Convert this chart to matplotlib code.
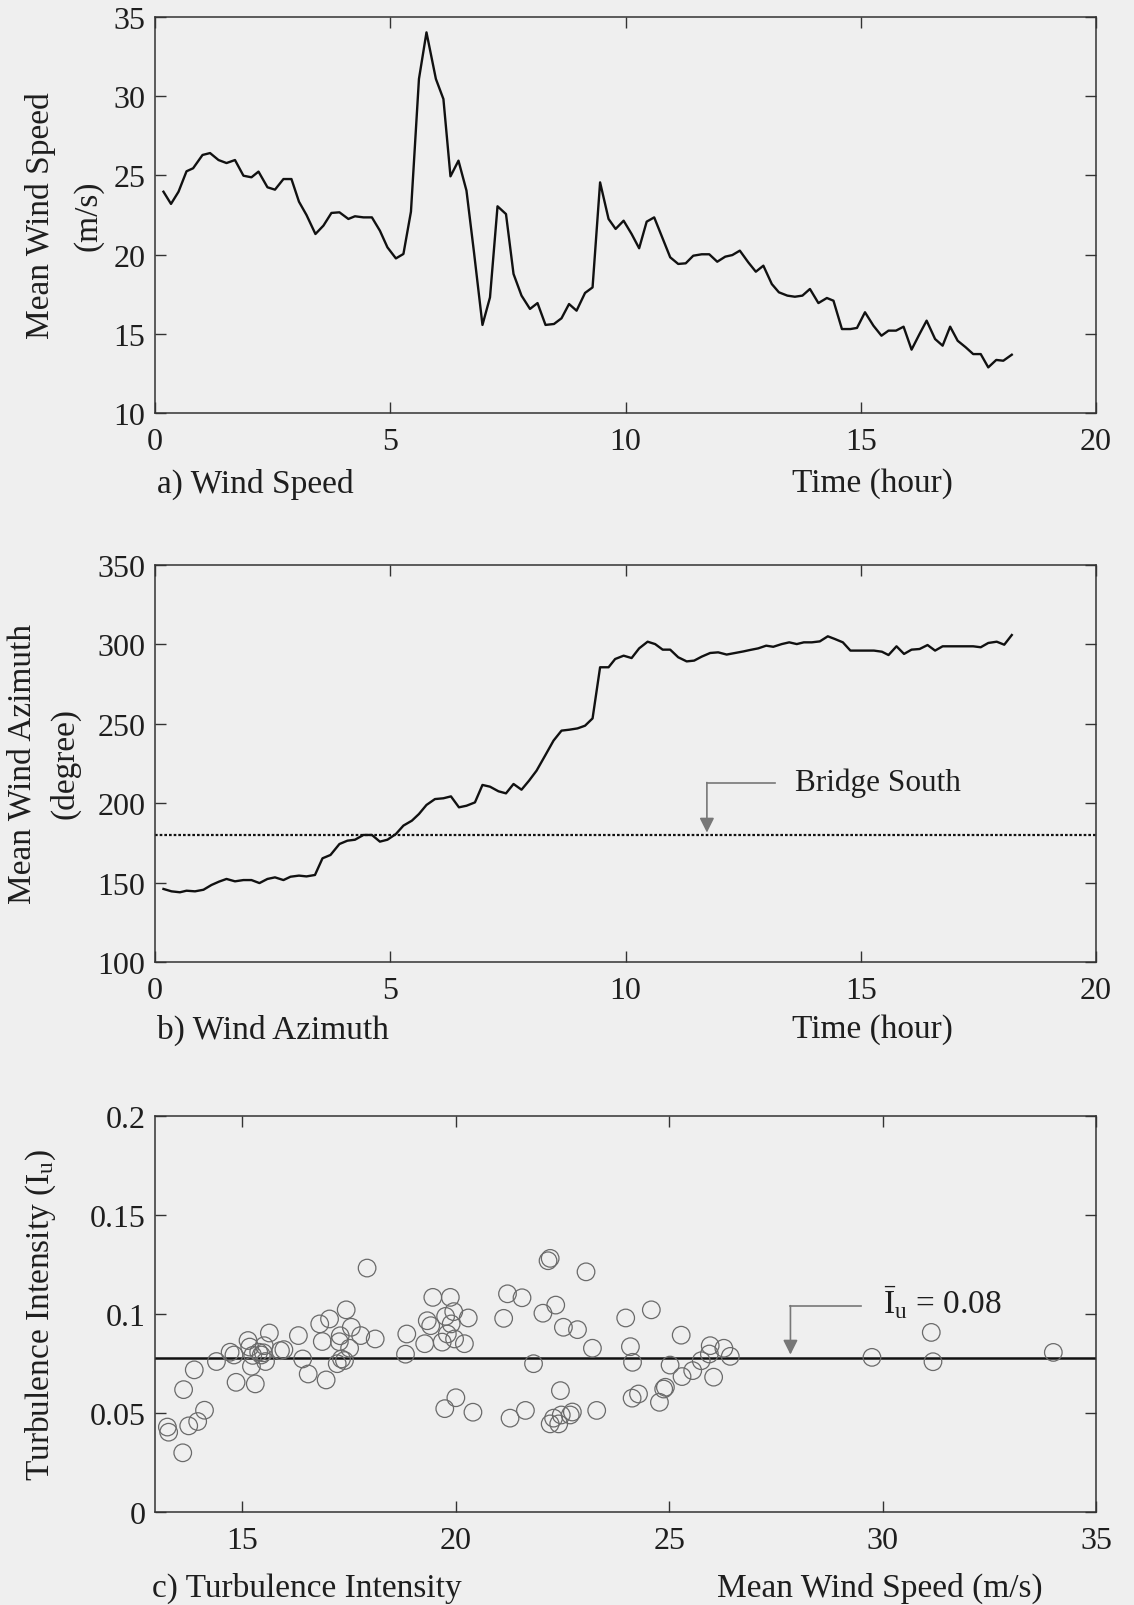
import matplotlib
matplotlib.use("Agg")
import matplotlib.pyplot as plt

plt.rcParams['font.family'] = ['Liberation Serif', 'DejaVu Serif']
plt.rcParams['mathtext.fontset'] = 'custom'
plt.rcParams['mathtext.rm'] = 'Liberation Serif'
plt.rcParams['mathtext.it'] = 'Liberation Serif:italic'

# ---------------- data ----------------
speed_time = [0.18, 0.34, 0.50, 0.67, 0.81, 1.01, 1.17, 1.35, 1.52, 1.70, 1.88, 2.05, 2.20, 2.39, 2.55,
              2.73, 2.90, 3.06, 3.22, 3.41, 3.58, 3.75, 3.92, 4.11, 4.25, 4.43, 4.61, 4.78, 4.94, 5.12,
              5.28, 5.44, 5.61, 5.77, 5.97, 6.13, 6.28, 6.45, 6.62, 6.78, 6.96, 7.12, 7.28, 7.46, 7.62,
              7.79, 7.97, 8.13, 8.30, 8.48, 8.64, 8.80, 8.96, 9.14, 9.30, 9.46, 9.64, 9.79, 9.96, 10.13,
              10.29, 10.45, 10.61, 10.95, 11.12, 11.28, 11.44, 11.62, 11.78, 11.95, 12.12, 12.27, 12.43,
              12.61, 12.77, 12.93, 13.11, 13.26, 13.44, 13.60, 13.76, 13.92, 14.10, 14.28, 14.42, 14.60,
              14.78, 14.92, 15.09, 15.27, 15.44, 15.59, 15.75, 15.91, 16.08, 16.25, 16.40, 16.58, 16.74,
              16.90, 17.06, 17.23, 17.39, 17.55, 17.71, 17.88, 18.03, 18.21]
wind_speed = [23.97, 23.2, 23.97, 25.26, 25.45, 26.29, 26.41, 25.97, 25.78, 25.97, 24.98, 24.88, 25.24, 24.25,
              24.1, 24.77, 24.77, 23.34, 22.5, 21.3, 21.83, 22.63, 22.67, 22.25, 22.42, 22.35, 22.35, 21.51,
              20.46, 19.76, 20.04, 22.71, 31.09, 34.03, 31.09, 29.82, 24.94, 25.93, 24.04, 20.14, 15.56,
              17.30, 23.05, 22.56, 18.78, 17.41, 16.57, 16.94, 15.56, 15.62, 15.98, 16.88, 16.46, 17.58,
              17.93, 24.56, 22.25, 21.62, 22.14, 21.3, 20.40, 22.08, 22.35, 19.83, 19.41, 19.45, 19.93,
              20.02, 20.02, 19.55, 19.87, 19.97, 20.25, 19.51, 18.92, 19.30, 18.14, 17.62, 17.41, 17.34,
              17.41, 17.83, 16.94, 17.26, 17.09, 15.30, 15.30, 15.37, 16.36, 15.51, 14.88, 15.20, 15.20,
              15.45, 14.0, 14.99, 15.83, 14.67, 14.25, 15.45, 14.56, 14.15, 13.72, 13.72, 12.88, 13.35,
              13.30, 13.68]

azim_time = [0.18, 0.35, 0.53, 0.67, 0.85, 1.03, 1.20, 1.36, 1.52, 1.70, 1.88, 2.05, 2.22, 2.39, 2.55, 2.73,
             2.88, 3.06, 3.22, 3.40, 3.56, 3.73, 3.92, 4.09, 4.25, 4.43, 4.61, 4.78, 4.94, 5.12, 5.28, 5.46,
             5.61, 5.77, 5.95, 6.13, 6.29, 6.46, 6.62, 6.80, 6.96, 7.12, 7.30, 7.46, 7.62, 7.79, 7.95, 8.11,
             8.29, 8.47, 8.64, 8.81, 8.98, 9.14, 9.30, 9.46, 9.64, 9.78, 9.96, 10.13, 10.29, 10.47, 10.63,
             10.79, 10.95, 11.12, 11.30, 11.46, 11.62, 11.80, 11.97, 12.15, 12.33, 12.51, 12.65, 12.82,
             12.99, 13.14, 13.32, 13.48, 13.64, 13.79, 13.96, 14.13, 14.30, 14.45, 14.62, 14.78, 14.95,
             15.13, 15.28, 15.45, 15.59, 15.76, 15.92, 16.08, 16.25, 16.42, 16.58, 16.74, 16.90, 17.07,
             17.24, 17.39, 17.55, 17.71, 17.89, 18.05, 18.21]
wind_azimuth = [146.0, 144.5, 143.9, 144.9, 144.5, 145.5, 148.5, 150.6, 152.3, 150.8, 151.6, 151.6, 149.7,
                152.3, 153.3, 151.6, 153.7, 154.4, 153.9, 154.8, 165.3, 167.4, 174.3, 176.4, 177.0, 180.0,
                180.0, 175.8, 177.0, 180.6, 185.9, 189.0, 193.2, 198.9, 202.6, 203.1, 204.3, 197.4, 198.4,
                200.5, 211.5, 210.4, 207.5, 206.2, 212.1, 208.5, 214.2, 220.5, 229.9, 239.4, 245.7, 246.3,
                247.1, 248.8, 253.4, 285.6, 285.6, 290.8, 292.9, 291.4, 297.5, 301.7, 300.2, 296.7, 296.7,
                291.9, 289.3, 289.8, 292.3, 294.6, 295.0, 293.6, 294.6, 295.6, 296.5, 297.5, 299.2, 298.5,
                300.2, 301.3, 300.2, 301.3, 301.3, 301.9, 305.1, 303.4, 301.3, 296.1, 296.1, 296.1, 296.1,
                295.4, 293.3, 298.8, 294.0, 296.7, 297.1, 299.6, 296.1, 298.8, 298.8, 298.8, 298.8, 298.8,
                298.2, 300.9, 301.7, 299.8, 305.9]
bridge_south = 180.0

ti_speed = [13.24, 13.27, 13.60, 13.62, 13.74, 13.87, 13.95, 14.11, 14.39, 14.71, 14.80, 14.85, 15.13,
            15.17, 15.24, 15.21, 15.30, 15.38, 15.44, 15.51, 15.54, 15.49, 15.63, 15.89, 15.97, 16.31,
            16.41, 16.54, 16.81, 16.87, 16.96, 17.04, 17.22, 17.27, 17.29, 17.32, 17.39, 17.43, 17.51,
            17.55, 17.77, 17.92, 18.11, 18.85, 18.82, 19.27, 19.33, 19.41, 19.46, 19.68, 19.74, 19.76,
            19.80, 19.87, 19.89, 19.95, 19.97, 20.00, 20.20, 20.29, 20.40, 21.12, 21.21, 21.27, 21.55,
            21.63, 21.82, 22.04, 22.16, 22.21, 22.21, 22.29, 22.34, 22.41, 22.45, 22.47, 22.52, 22.68,
            22.73, 22.85, 23.05, 23.20, 23.30, 23.98, 24.09, 24.13, 24.14, 24.28, 24.58, 25.28, 25.02,
            24.87, 24.91, 24.77, 25.30, 25.55, 25.75, 25.96, 25.94, 26.04, 26.28, 26.43, 29.75, 31.14,
            31.18, 34.00]
ti_value = [0.0429, 0.0403, 0.0299, 0.0618, 0.0435, 0.0718, 0.0457, 0.0514, 0.0760, 0.0807, 0.0793,
            0.0655, 0.0866, 0.0833, 0.0791, 0.0736, 0.0647, 0.0807, 0.0793, 0.0840, 0.0760, 0.0804,
            0.0904, 0.0815, 0.0820, 0.0891, 0.0773, 0.0697, 0.0950, 0.0861, 0.0667, 0.0975, 0.0749,
            0.0860, 0.0890, 0.0773, 0.0765, 0.1021, 0.0827, 0.0933, 0.0891, 0.1232, 0.0874, 0.0899,
            0.0797, 0.0850, 0.0966, 0.0941, 0.1084, 0.0858, 0.0522, 0.0988, 0.0899, 0.1084, 0.0950,
            0.1012, 0.0874, 0.0577, 0.0850, 0.0980, 0.0504, 0.0978, 0.1102, 0.0474, 0.1082, 0.0513,
            0.0749, 0.1004, 0.1269, 0.1281, 0.0445, 0.0474, 0.1045, 0.0445, 0.0613, 0.0490, 0.0933,
            0.0490, 0.0505, 0.0921, 0.1213, 0.0827, 0.0513, 0.0980, 0.0835, 0.0575, 0.0756, 0.0596,
            0.1021, 0.0893, 0.0742, 0.0621, 0.0630, 0.0554, 0.0684, 0.0714, 0.0764, 0.0840, 0.0798,
            0.0681, 0.0827, 0.0786, 0.0781, 0.0907, 0.0759, 0.0806]
ti_mean = 0.078

time_ticks = [0, 5, 10, 15, 20]
speed_ticks = [10, 15, 20, 25, 30, 35]
azim_ticks = [100, 150, 200, 250, 300, 350]
ti_xticks = [15, 20, 25, 30, 35]
ti_yticks = [0, 0.05, 0.1, 0.15, 0.2]
ti_yticklabels = ['0', '0.05', '0.1', '0.15', '0.2']

# ---------------- figure ----------------
W, H = 1134, 1606
BG = '#efefef'
TXT = '#1e1e1e'
LBL = 24
fig = plt.figure(figsize=(W / 100, H / 100), dpi=100, facecolor=BG)


def axes_px(l, t, r, b):
    return fig.add_axes([l / W, 1 - b / H, (r - l) / W, (b - t) / H])


def style(ax):
    ax.set_facecolor(BG)
    for s in ax.spines.values():
        s.set_color('#333333')
        s.set_linewidth(1.1)
    ax.tick_params(direction='in', length=8, width=1.0, color='#333333',
                   top=True, right=True, labelsize=23, labelcolor=TXT, pad=10)
    ax.tick_params(axis='y', pad=7)


def ftext(x, y, s, **kw):
    kw.setdefault('fontsize', LBL)
    kw.setdefault('color', TXT)
    fig.text(x / W, 1 - y / H, s, **kw)


LW = 1.7

# panel a
ax1 = axes_px(155, 18, 1096, 414)
style(ax1)
ax1.plot(speed_time, wind_speed, color='#111111', lw=LW)
ax1.set_xlim(0, 20)
ax1.set_ylim(10, 35)
ax1.set_xticks(time_ticks)
ax1.set_yticks(speed_ticks)
ftext(64, 216, 'Mean Wind Speed\n(m/s)', rotation=90, ha='center', va='center',
      multialignment='center', linespacing=1.7)
ftext(157, 484, 'a) Wind Speed', ha='left', va='center')
ftext(872, 484, 'Time (hour)', ha='center', va='center')

# panel b
ax2 = axes_px(155, 566, 1096, 963)
style(ax2)
ax2.plot(azim_time, wind_azimuth, color='#111111', lw=LW)
ax2.axhline(bridge_south, color='#111111', lw=1.6, ls=(0, (1.2, 0.9)))
ax2.set_xlim(0, 20)
ax2.set_ylim(100, 350)
ax2.set_xticks(time_ticks)
ax2.set_yticks(azim_ticks)
ax2.annotate('', xy=(11.73, bridge_south + 1.5), xytext=(11.73, 213),
             arrowprops=dict(arrowstyle='-|>', color='#777777', lw=1.2,
                             mutation_scale=22, shrinkA=0, shrinkB=0))
ax2.plot([11.73, 13.18], [213, 213], color='#777777', lw=1.2)
ax2.text(13.6, 213, 'Bridge South', fontsize=22.5, color=TXT, ha='left', va='center')
ftext(44, 764, 'Mean Wind Azimuth\n(degree)', rotation=90, ha='center', va='center',
      multialignment='center', linespacing=1.5)
ftext(157, 1030, 'b) Wind Azimuth', ha='left', va='center')
ftext(872, 1030, 'Time (hour)', ha='center', va='center')

# panel c
ax3 = axes_px(155, 1117, 1096, 1513)
style(ax3)
ax3.scatter(ti_speed, ti_value, s=160, facecolors='none', edgecolors='#6a6a6a', linewidths=0.9, zorder=3)
ax3.axhline(ti_mean, color='#111111', lw=1.8, zorder=2)
ax3.set_xlim(12.95, 35)
ax3.set_ylim(0, 0.2)
ax3.set_xticks(ti_xticks)
ax3.set_yticks(ti_yticks)
ax3.set_yticklabels(ti_yticklabels)
ax3.annotate('', xy=(27.84, ti_mean + 0.0015), xytext=(27.84, 0.1042),
             arrowprops=dict(arrowstyle='-|>', color='#777777', lw=1.2,
                             mutation_scale=22, shrinkA=0, shrinkB=0))
ax3.plot([27.84, 29.49], [0.1042, 0.1042], color='#777777', lw=1.2)
ax3.text(30.0, 0.1062, r'$\bar{\mathrm{I}}_{\mathrm{u}}$ = 0.08', fontsize=LBL, color=TXT,
         ha='left', va='center')
ftext(41, 1315, r'Turbulence Intensity (I$_{\mathrm{u}}$)', rotation=90, ha='center', va='center')
ftext(152, 1588, 'c) Turbulence Intensity', ha='left', va='center')
ftext(880, 1588, 'Mean Wind Speed (m/s)', ha='center', va='center')

fig.savefig('out.png', dpi=100, facecolor=BG)
